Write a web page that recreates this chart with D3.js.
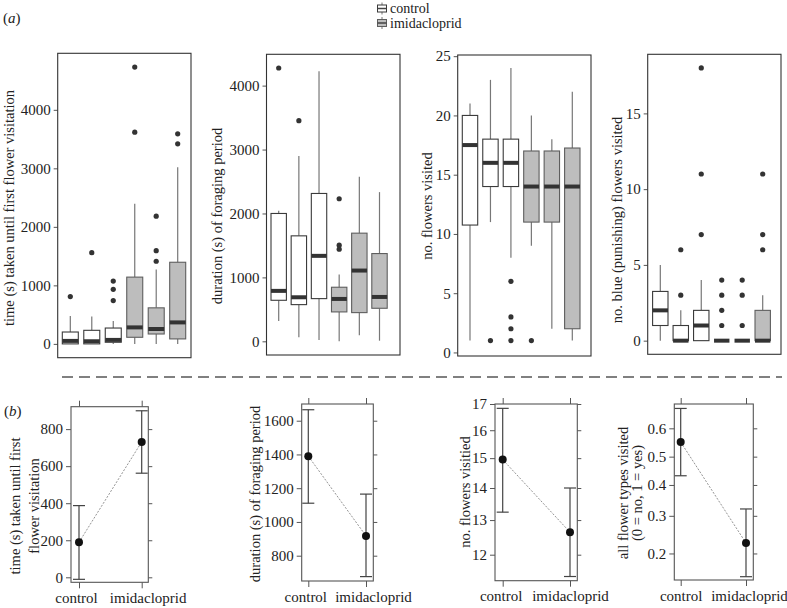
<!DOCTYPE html>
<html><head><meta charset="utf-8">
<script src="https://cdn.jsdelivr.net/npm/d3@7"></script>
<style>
body{margin:0;background:#fff}
svg{display:block}
svg, svg text{font-family:'Liberation Serif', 'DejaVu Serif', serif !important;}
</style>
</head><body>
<svg id="chart" width="787" height="608"></svg>
<script>
// ---------------- DATA ----------------
const legendLabels = ["control", "imidacloprid"];
const boxGroups = ["control", "control", "control", "imidacloprid", "imidacloprid", "imidacloprid"];

// box stats: [lower whisker, Q1, median, Q3, upper whisker]
const firstVisitStats = [[0, 0, 51, 203, 475], [0, 0, 45, 232, 469], [0, 28, 68, 271, 390],
                         [0, 113, 282, 1141, 2393], [0, 169, 254, 616, 1271], [0, 85, 367, 1395, 3020]];
const firstVisitOutliers = [[808], [1559], [740, 932, 1073], [3618, 4730], [1412, 1593, 2182], [3419, 3590]];
const firstVisitTicks = [0, 1000, 2000, 3000, 4000];

const durationStats = [[318, 642, 789, 2000, 2042], [63, 574, 689, 1650, 2900], [21, 668, 1337, 2313, 4224],
                       [0, 460, 663, 846, 1044], [94, 449, 1107, 1692, 2575], [10, 517, 694, 1373, 2334]];
const durationOutliers = [[4276], [3452], [], [1441, 1504, 2230], [], []];
const durationTicks = [0, 1000, 2000, 3000, 4000];

const flowersStats = [[1, 10.75, 17.5, 20, 21], [11, 14, 16, 18, 23], [8, 14, 16, 18, 24],
                      [9, 11, 14, 17, 20], [2, 11, 14, 17, 18], [1, 2, 14, 17.25, 22]];
const flowersOutliers = [[], [1], [1, 2, 3, 6], [1], [], []];
const flowersTicks = [0, 5, 10, 15, 20, 25];

const blueStats = [[0, 1, 2, 3.25, 5], [0, 0, 0, 1, 2], [0, 0, 1, 2, 4],
                   [0, 0, 0, 0, 0], [0, 0, 0, 0, 0], [0, 0, 0, 2, 3]];
const blueOutliers = [[], [3, 6], [7, 11, 18], [1, 2, 3, 4], [1, 3, 4], [6, 7, 11]];
const blueTicks = [0, 5, 10, 15];

// effect plots (b): fit, lower, upper
const effLevels = ["control", "imidacloprid"];
const effTimeFit = [189, 731], effTimeLower = [-11, 562], effTimeUpper = [387, 899];
const effTimeTicks = [0, 200, 400, 600, 800];
const effDurFit = [1390, 917], effDurLower = [1111, 676], effDurUpper = [1665, 1165];
const effDurTicks = [800, 1000, 1200, 1400, 1600];
const effFlowFit = [14.95, 12.64], effFlowLower = [13.24, 11.41], effFlowUpper = [16.83, 14.0];
const effFlowTicks = [12, 13, 14, 15, 16, 17];
const effAllFit = [0.552, 0.225], effAllLower = [0.432, 0.152], effAllUpper = [0.666, 0.321];
const effAllTicks = [0.2, 0.3, 0.4, 0.5, 0.6];

// ---------------- DRAW ----------------
const FONT = "Liberation Serif, DejaVu Serif, serif";
const svg = d3.select("#chart").attr("font-family", FONT);
const fillColor = d3.scaleOrdinal().domain(legendLabels).range(["#ffffff", "#bdbdbd"]);
const edgeColor = d3.scaleOrdinal().domain(legendLabels).range(["#3a3a3a", "#5e5e5e"]);

// labels (a) (b)
const lab = (x, y, letter) => {
  const t = svg.append("text").attr("x", x).attr("y", y).attr("font-size", 15).attr("fill", "#222");
  t.append("tspan").text("(");
  t.append("tspan").attr("font-style", "italic").text(letter);
  t.append("tspan").text(")");
};
lab(3, 23, "a");
lab(4, 416, "b");

// legend
const leg = svg.append("g");
legendLabels.forEach((name, i) => {
  const cy = 8.5 + i * 14.5;
  const g = leg.append("g");
  g.append("line").attr("x1", 382).attr("x2", 382).attr("y1", cy - 6).attr("y2", cy + 6).attr("stroke", "#777");
  g.append("rect").attr("x", 377.5).attr("y", cy - 3.5).attr("width", 9).attr("height", 7)
    .attr("fill", fillColor(name)).attr("stroke", edgeColor(name));
  g.append("line").attr("x1", 377.5).attr("x2", 386.5).attr("y1", cy).attr("y2", cy).attr("stroke", "#444").attr("stroke-width", 1.5);
  g.append("text").attr("x", 390).attr("y", cy + 4.5).attr("font-size", 14).attr("fill", "#222").text(name);
});

function styleAxis(ax, size) {
  ax.attr("font-family", FONT).attr("font-size", size);
  ax.select(".domain").remove();
  ax.selectAll(".tick line").attr("stroke", "#555");
  ax.selectAll(".tick text").attr("fill", "#222");
}

function boxPanel(cfg) {
  const g = svg.append("g");
  const y = d3.scaleLinear().domain(cfg.domain).range([cfg.bottom, cfg.top]);
  const x = d3.scalePoint().domain(d3.range(cfg.stats.length)).range([cfg.x0, cfg.x1]);
  const bw = cfg.bw;
  const ax = g.append("g").attr("transform", `translate(${cfg.left},0)`)
    .call(d3.axisLeft(y).tickValues(cfg.ticks).tickSize(4).tickPadding(3).tickFormat(d3.format("d")));
  styleAxis(ax, 15);
  cfg.stats.forEach((s, i) => {
    const cx = x(i), grp = boxGroups[i];
    const bg = g.append("g");
    bg.append("line").attr("x1", cx).attr("x2", cx).attr("y1", y(s[0])).attr("y2", y(s[1])).attr("stroke", "#777").attr("stroke-width", 1.2);
    bg.append("line").attr("x1", cx).attr("x2", cx).attr("y1", y(s[3])).attr("y2", y(s[4])).attr("stroke", "#777").attr("stroke-width", 1.2);
    bg.append("rect").attr("x", cx - bw / 2).attr("width", bw)
      .attr("y", y(s[3])).attr("height", Math.max(0, y(s[1]) - y(s[3])))
      .attr("fill", fillColor(grp)).attr("stroke", edgeColor(grp)).attr("stroke-width", 1.1);
    bg.append("line").attr("x1", cx - bw / 2).attr("x2", cx + bw / 2).attr("y1", y(s[2])).attr("y2", y(s[2]))
      .attr("stroke", "#333").attr("stroke-width", 4);
    bg.selectAll("circle.out").data(cfg.outliers[i]).enter().append("circle")
      .attr("cx", cx).attr("cy", d => y(d)).attr("r", 2.6).attr("fill", "#333");
  });
  g.append("rect").attr("x", cfg.left).attr("y", cfg.top).attr("width", cfg.right - cfg.left).attr("height", cfg.bottom - cfg.top)
    .attr("fill", "none").attr("stroke", "#333").attr("stroke-width", 1.1);
  g.append("text").attr("transform", `translate(${cfg.tx},${cfg.ty}) rotate(-90)`)
    .attr("text-anchor", "middle").attr("dy", "0.35em").attr("font-size", 14.5).attr("fill", "#222").text(cfg.title);
}

boxPanel({stats: firstVisitStats, outliers: firstVisitOutliers, ticks: firstVisitTicks, domain: [-236, 4966],
  left: 57.7, right: 191, top: 53.3, bottom: 357.7, x0: 70.3, x1: 177.7, bw: 16,
  title: "time (s) taken until first flower visitation", tx: 9, ty: 208});
boxPanel({stats: durationStats, outliers: durationOutliers, ticks: durationTicks, domain: [-214, 4490],
  left: 266.5, right: 400, top: 54.3, bottom: 355, x0: 278.7, x1: 379.5, bw: 15.4,
  title: "duration (s) of foraging period", tx: 217, ty: 216});
boxPanel({stats: flowersStats, outliers: flowersOutliers, ticks: flowersTicks, domain: [-0.3, 25.1],
  left: 457.7, right: 591, top: 55, bottom: 356, x0: 470, x1: 572.3, bw: 15.4,
  title: "no. flowers visited", tx: 427, ty: 206});
boxPanel({stats: blueStats, outliers: blueOutliers, ticks: blueTicks, domain: [-0.9, 18.9],
  left: 647.7, right: 781, top: 54.3, bottom: 354.3, x0: 660.3, x1: 762.7, bw: 15.4,
  title: "no. blue (punishing) flowers visited", tx: 617, ty: 220});

// dashed separator
svg.append("line").attr("x1", 62).attr("x2", 782).attr("y1", 377).attr("y2", 377)
  .attr("stroke", "#808080").attr("stroke-width", 2).attr("stroke-dasharray", "11,6");

// effect panels
const logit = p => Math.log(p / (1 - p));
const invlogit = v => 1 / (1 + Math.exp(-v));

function effPanel(cfg) {
  const g = svg.append("g");
  const x = d3.scalePoint().domain(effLevels).range([cfg.x0, cfg.x1]);
  const y = cfg.y;
  const tf = cfg.tf || (v => v);
  const L = cfg.left, R = cfg.right, T = cfg.top, B = cfg.bottom;
  const yt = cfg.ticks.map(tf);
  const axL = g.append("g").attr("transform", `translate(${L},0)`)
    .call(d3.axisLeft(y).tickValues(yt).tickSize(5).tickPadding(3).tickFormat(cfg.fmt));
  styleAxis(axL, 15);
  const axR = g.append("g").attr("transform", `translate(${R},0)`)
    .call(d3.axisRight(y).tickValues(yt).tickSize(4).tickFormat(""));
  styleAxis(axR, 15);
  const axT = g.append("g").attr("transform", `translate(0,${T})`)
    .call(d3.axisTop(x).tickSize(6).tickFormat(""));
  styleAxis(axT, 15);
  const axB = g.append("g").attr("transform", `translate(0,${B})`)
    .call(d3.axisBottom(x).tickSize(6).tickPadding(4));
  styleAxis(axB, 15);
  axB.selectAll(".tick text").attr("dx", (d, i) => cfg.labelShift[i]);
  g.append("rect").attr("x", L).attr("y", T).attr("width", R - L).attr("height", B - T)
    .attr("fill", "none").attr("stroke", "#555").attr("stroke-width", 1.1);
  g.append("path").datum(effLevels.map((l, i) => [x(l), y(tf(cfg.fit[i]))]))
    .attr("d", d3.line()).attr("fill", "none").attr("stroke", "#777").attr("stroke-width", 0.8).attr("stroke-dasharray", "2,1.5");
  effLevels.forEach((l, i) => {
    const cx = x(l);
    const yl = y(tf(cfg.lower[i])), yu = y(tf(cfg.upper[i]));
    g.append("line").attr("x1", cx).attr("x2", cx).attr("y1", yu).attr("y2", yl).attr("stroke", "#444").attr("stroke-width", 1.2);
    [yl, yu].forEach(yy => g.append("line").attr("x1", cx - 6).attr("x2", cx + 6).attr("y1", yy).attr("y2", yy)
      .attr("stroke", "#444").attr("stroke-width", 1.2));
    g.append("circle").attr("cx", cx).attr("cy", y(tf(cfg.fit[i]))).attr("r", 4).attr("fill", "#111");
  });
  const tt = g.append("text").attr("transform", `translate(${cfg.tx},${cfg.ty}) rotate(-90)`)
    .attr("text-anchor", "middle").attr("font-size", 14.5).attr("fill", "#222");
  cfg.title.forEach((line, k) => tt.append("tspan").attr("x", 0).attr("y", k * cfg.lh).attr("dy", "0.35em").text(line));
}

effPanel({fit: effTimeFit, lower: effTimeLower, upper: effTimeUpper, ticks: effTimeTicks,
  y: d3.scaleLinear().domain([-27, 921]).range([582.3, 406.7]), fmt: d3.format("d"),
  left: 71, right: 148.3, top: 406.7, bottom: 582.3, x0: 79, x1: 141.7, labelShift: [-3, 6],
  title: ["time (s) taken until first", "flower visitation"], tx: 15, ty: 506, lh: 19});
effPanel({fit: effDurFit, lower: effDurLower, upper: effDurUpper, ticks: effDurTicks,
  y: d3.scaleLinear().domain([650, 1699]).range([581, 404]), fmt: d3.format("d"),
  left: 301.7, right: 373.3, top: 404, bottom: 581, x0: 308.3, x1: 366, labelShift: [-3, 7],
  title: ["duration (s) of foraging period"], tx: 255, ty: 494, lh: 0});
effPanel({fit: effFlowFit, lower: effFlowLower, upper: effFlowUpper, ticks: effFlowTicks,
  y: d3.scaleLog().domain([11.30, 17.0]).range([580.7, 404]), fmt: d3.format("d"),
  left: 495, right: 577.3, top: 404, bottom: 580.7, x0: 502.7, x1: 570, labelShift: [-2, 0],
  title: ["no. flowers visitied"], tx: 465, ty: 492, lh: 0});
effPanel({fit: effAllFit, lower: effAllLower, upper: effAllUpper, ticks: effAllTicks, tf: logit,
  y: d3.scaleLinear().domain([logit(0.146), logit(0.680)]).range([580, 404]), fmt: v => d3.format(".1f")(invlogit(v)),
  left: 674.3, right: 753.3, top: 404, bottom: 580, x0: 680.7, x1: 746, labelShift: [0, 3],
  title: ["all flower types visited", "(0 = no, 1 = yes)"], tx: 623, ty: 493, lh: 14});
</script>
</body></html>
